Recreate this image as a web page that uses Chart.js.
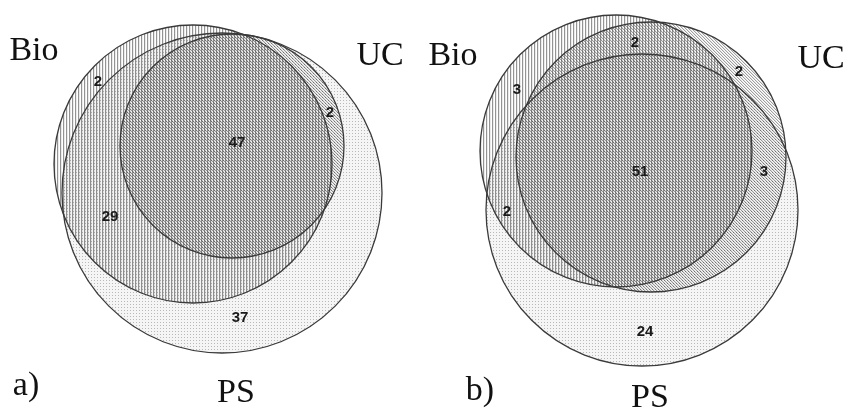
<!DOCTYPE html>
<html>
<head>
<meta charset="utf-8">
<script src="https://cdn.jsdelivr.net/npm/chart.js@4.4.0/dist/chart.umd.min.js"></script>
<style>
  html, body { margin: 0; padding: 0; background: #fff; }
  #wrap { width: 844px; height: 408px; }
</style>
</head>
<body>
<div id="wrap"><canvas id="venn" width="844" height="408"></canvas></div>
<script>
'use strict';

// the three sets, same order in every array below
const setNames = ['Bio', 'UC', 'PS'];
const panelNames = ['a)', 'b)'];

// circles, in chart units (x 0..844, y 0..408 top down)
const circleXA = [193, 232, 222];
const circleYA = [164, 146, 193];
const circleRA = [139, 112, 160];
const circleXB = [616, 651, 642];
const circleYB = [151, 157, 210];
const circleRB = [136, 135, 156];

// region counts
const countsA = [2, 29, 47, 2, 37];
const countXA = [98, 110, 237, 330, 240];
const countYA = [82, 217, 143, 113, 318];
const countsB = [2, 2, 3, 51, 3, 2, 24];
const countXB = [635, 739, 517, 640, 764, 507, 645];
const countYB = [43, 72, 90, 172, 172, 212, 332];

// set names (baseline anchors)
const nameXA = [34, 380, 236];
const nameYA = [60, 65, 402];
const nameXB = [453, 821, 650];
const nameYB = [65, 68, 407];
const panelX = [26, 480];
const panelY = [395, 400];

const makePattern = function (kind) {
  const c = document.createElement('canvas');
  const g = c.getContext('2d');
  c.width = 3; c.height = 3;
  if (kind === 'vertical') {
    g.fillStyle = 'rgba(80,80,80,0.62)';
    g.fillRect(0, 0, 1, 3);
    g.fillStyle = 'rgba(80,80,80,0.12)';
    g.fillRect(1, 0, 1, 3);
  } else if (kind === 'diagonal') {
    for (let i = 0; i < 3; i++) {
      g.fillStyle = 'rgba(80,80,80,0.55)';
      g.fillRect(i, i, 1, 1);
      g.fillStyle = 'rgba(80,80,80,0.15)';
      g.fillRect((i + 1) % 3, i, 1, 1);
    }
  } else {
    g.fillStyle = 'rgba(0,0,0,0.04)';
    g.fillRect(0, 0, 3, 3);
    g.fillStyle = 'rgba(0,0,0,0.25)';
    g.fillRect(1, 1, 1, 1);
  }
  return document.getElementById('venn').getContext('2d').createPattern(c, 'repeat');
};

const patterns = [makePattern('vertical'), makePattern('diagonal'), makePattern('dots')];
const panels = [[circleXA, circleYA, circleRA], [circleXB, circleYB, circleRB]];
const circlesFor = i => panels.map(([xs, ys, rs]) => ({ x: xs[i], y: ys[i], r: rs[i] }));

// radius in pixels through the x scale
const pxRadius = c => {
  if (!c.raw) return 0;
  const s = c.chart.scales.x;
  return s.getPixelForValue(c.raw.r) - s.getPixelForValue(0);
};

const fills = setNames.map((name, i) => ({
  label: name,
  data: circlesFor(i),
  order: 3 - i,
  pointStyle: 'circle',
  pointRadius: pxRadius,
  pointHoverRadius: pxRadius,
  pointBackgroundColor: patterns[i],
  pointBorderWidth: 0,
  pointBorderColor: 'rgba(0,0,0,0)',
  clip: false
}));

const outlines = {
  label: 'outline',
  data: [0, 1, 2].flatMap(i => circlesFor(i)),
  order: 0,
  pointStyle: 'circle',
  pointRadius: pxRadius,
  pointHoverRadius: pxRadius,
  pointBackgroundColor: 'rgba(0,0,0,0)',
  pointBorderColor: '#3a3a3a',
  pointBorderWidth: 1.3,
  clip: false
};

const vennText = {
  id: 'vennText',
  afterDatasetsDraw(chart) {
    const { ctx, scales: { x, y } } = chart;
    ctx.save();
    ctx.fillStyle = '#111';
    ctx.textAlign = 'center';
    ctx.textBaseline = 'alphabetic';
    ctx.font = '34px "Liberation Serif", "Times New Roman", serif';
    setNames.forEach((n, i) => {
      ctx.fillText(n, x.getPixelForValue(nameXA[i]), y.getPixelForValue(nameYA[i]));
      ctx.fillText(n, x.getPixelForValue(nameXB[i]), y.getPixelForValue(nameYB[i]));
    });
    panelNames.forEach((n, i) => {
      ctx.fillText(n, x.getPixelForValue(panelX[i]), y.getPixelForValue(panelY[i]));
    });
    ctx.textBaseline = 'middle';
    ctx.font = 'bold 15px "Liberation Sans", Arial, sans-serif';
    ctx.fillStyle = '#1a1a1a';
    countsA.forEach((v, i) => ctx.fillText(v, x.getPixelForValue(countXA[i]), y.getPixelForValue(countYA[i])));
    countsB.forEach((v, i) => ctx.fillText(v, x.getPixelForValue(countXB[i]), y.getPixelForValue(countYB[i])));
    ctx.restore();
  }
};

new Chart(document.getElementById('venn'), {
  type: 'scatter',
  data: { datasets: [outlines, ...fills] },
  options: {
    responsive: false,
    animation: false,
    events: [],
    layout: { padding: 0 },
    scales: {
      x: { type: 'linear', min: 0, max: 844, display: false },
      y: { type: 'linear', min: 0, max: 408, reverse: true, display: false }
    },
    plugins: { legend: { display: false }, tooltip: { enabled: false } }
  },
  plugins: [vennText]
});
</script>
</body>
</html>
